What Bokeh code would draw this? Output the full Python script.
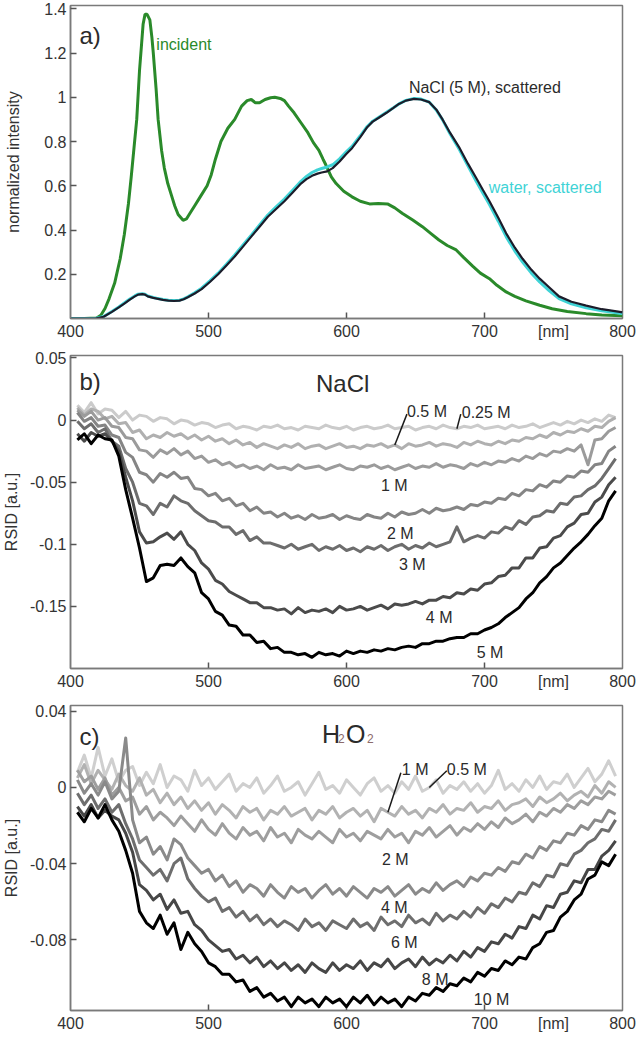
from bokeh.plotting import figure
from bokeh.models import Label, FixedTicker, Range1d
from bokeh.layouts import column
from bokeh.embed import file_html
from bokeh.resources import INLINE

FONT = "Liberation Sans"

# ---------------- panel a) normalized spectra (read off the picture)
incident_nm = [400, 410, 419, 422, 425, 428, 432, 436, 439, 442, 444, 446, 448, 450, 451.5, 452.6,
               454, 455.5, 457.5, 459, 460, 462, 463.5, 466, 468, 470.5, 473, 475.5, 478, 481.6,
               484, 486, 490, 495, 499, 502, 505, 509, 514, 519, 524, 528, 531, 534, 537, 541,
               545, 548, 552, 555, 558, 562, 567, 572, 576, 580, 583, 585, 589, 592.5, 598, 604,
               610, 616.7, 623, 629.7, 635, 640.6, 648, 655, 661, 667, 673, 679.5, 685, 691.6, 697,
               703.6, 709, 715.7, 722, 730, 740, 749, 760, 773.7, 785, 800]
incident_val = [0.0, 0.0, 0.002, 0.015, 0.045, 0.09, 0.16, 0.27, 0.38, 0.52, 0.64, 0.77, 0.90, 1.12,
                1.24, 1.33, 1.375, 1.375, 1.35, 1.27, 1.20, 1.04, 0.90, 0.76, 0.68, 0.61, 0.56, 0.51,
                0.47, 0.444, 0.45, 0.47, 0.51, 0.56, 0.60, 0.65, 0.72, 0.80, 0.86, 0.90, 0.96, 0.985,
                0.99, 0.975, 0.975, 0.99, 0.998, 1.0, 0.995, 0.985, 0.96, 0.93, 0.885, 0.84, 0.795,
                0.76, 0.72, 0.695, 0.64, 0.61, 0.575, 0.55, 0.53, 0.518, 0.52, 0.518, 0.50, 0.475,
                0.445, 0.415, 0.385, 0.355, 0.33, 0.31, 0.275, 0.236, 0.205, 0.18, 0.15, 0.12, 0.10,
                0.08, 0.06, 0.044, 0.032, 0.022, 0.016, 0.012]

scat_nm = [400, 418, 424, 430, 435, 439, 443, 446.6, 449, 452, 454, 456, 460, 463.5, 467, 471, 475,
           479, 482, 485, 490, 495, 501, 507, 513, 519, 525, 531, 537, 543, 549, 555, 561, 567, 571,
           575, 579, 582, 586, 590, 595, 600, 604, 610, 615, 619, 624, 629, 634, 638, 643, 649, 654,
           660, 665, 669.6, 675, 682, 688, 694, 699, 703.6, 710, 715.7, 722, 727.6, 734, 740, 747,
           754, 763, 773.7, 785, 798, 800]
nacl_scat = [0.0, 0.0, 0.008, 0.03, 0.05, 0.067, 0.085, 0.10, 0.108, 0.11, 0.108, 0.10, 0.093, 0.089,
             0.084, 0.081, 0.079, 0.081, 0.087, 0.096, 0.113, 0.133, 0.165, 0.20, 0.24, 0.28, 0.325,
             0.37, 0.415, 0.46, 0.495, 0.53, 0.57, 0.61, 0.63, 0.645, 0.655, 0.66, 0.665, 0.68, 0.71,
             0.745, 0.77, 0.82, 0.865, 0.89, 0.91, 0.93, 0.952, 0.97, 0.985, 0.993, 0.99, 0.978,
             0.945, 0.90, 0.84, 0.77, 0.70, 0.635, 0.58, 0.53, 0.455, 0.385, 0.32, 0.27, 0.22, 0.18,
             0.14, 0.10, 0.076, 0.058, 0.042, 0.03, 0.028]
water_scat = [0.0, 0.0, 0.009, 0.032, 0.052, 0.07, 0.088, 0.102, 0.11, 0.112, 0.11, 0.102, 0.095,
              0.09, 0.086, 0.083, 0.081, 0.083, 0.089, 0.098, 0.116, 0.137, 0.17, 0.205, 0.245,
              0.287, 0.332, 0.377, 0.423, 0.468, 0.505, 0.54, 0.58, 0.62, 0.642, 0.66, 0.672, 0.678,
              0.685, 0.695, 0.722, 0.755, 0.778, 0.826, 0.868, 0.892, 0.912, 0.932, 0.953, 0.97,
              0.986, 0.995, 0.992, 0.978, 0.943, 0.898, 0.835, 0.762, 0.69, 0.62, 0.565, 0.515,
              0.44, 0.37, 0.305, 0.255, 0.205, 0.165, 0.125, 0.09, 0.066, 0.048, 0.035, 0.024, 0.022]

# ---------------- panels b) and c): RSID spectra, one value every 5 nm from 405 to 795 nm
wl = list(range(405, 800, 5))

nacl_025 = [0.012, 0.006, 0.014, 0.005, 0.009, 0.008, 0.002, 0.007, 0.000, 0.004,
            0.003, -0.001, 0.002, 0.001, -0.003, 0.000, -0.001, -0.004, -0.002, -0.003,
            -0.006, -0.004, -0.003, -0.007, -0.005, -0.006, -0.008, -0.005, -0.006, -0.004,
            -0.007, -0.006, -0.008, -0.005, -0.006, -0.007, -0.004, -0.006, -0.007, -0.005,
            -0.008, -0.006, -0.005, -0.007, -0.006, -0.004, -0.007, -0.006, -0.005, -0.008,
            -0.006, -0.005, -0.007, -0.004, -0.006, -0.007, -0.005, -0.006, -0.004, -0.007,
            -0.006, -0.005, -0.007, -0.004, -0.006, -0.005, -0.003, -0.006, -0.004, -0.002,
            -0.004, -0.001, -0.003, 0.000, -0.002, 0.001, -0.001, 0.004, 0.002]
nacl_05 = [0.010, 0.004, 0.009, 0.007, 0.001, 0.003, -0.003, -0.002, -0.010, -0.008,
           -0.015, -0.012, -0.014, -0.010, -0.013, -0.011, -0.015, -0.012, -0.016, -0.013,
           -0.017, -0.015, -0.019, -0.016, -0.020, -0.018, -0.022, -0.019, -0.021, -0.023,
           -0.020, -0.022, -0.019, -0.023, -0.021, -0.020, -0.023, -0.021, -0.019, -0.022,
           -0.021, -0.023, -0.020, -0.021, -0.019, -0.022, -0.020, -0.023, -0.019, -0.021,
           -0.020, -0.018, -0.021, -0.019, -0.020, -0.022, -0.018, -0.020, -0.017, -0.019,
           -0.020, -0.017, -0.019, -0.016, -0.017, -0.014, -0.015, -0.012, -0.014, -0.010,
           -0.012, -0.009, -0.010, -0.007, -0.009, -0.005, -0.006, -0.001, 0.002]
nacl_1 = [0.008, 0.003, 0.007, 0.000, 0.002, -0.005, -0.006, -0.014, -0.015, -0.024,
          -0.025, -0.030, -0.024, -0.027, -0.023, -0.028, -0.025, -0.031, -0.029, -0.034,
          -0.032, -0.036, -0.034, -0.038, -0.036, -0.039, -0.037, -0.040, -0.036, -0.039,
          -0.038, -0.040, -0.036, -0.039, -0.038, -0.037, -0.040, -0.038, -0.036, -0.039,
          -0.040, -0.037, -0.038, -0.036, -0.039, -0.037, -0.040, -0.038, -0.036, -0.039,
          -0.037, -0.038, -0.035, -0.038, -0.036, -0.037, -0.039, -0.035, -0.037, -0.034,
          -0.036, -0.033, -0.034, -0.031, -0.033, -0.029, -0.031, -0.027, -0.029, -0.025,
          -0.026, -0.023, -0.025, -0.020, -0.036, -0.016, -0.015, -0.009, -0.006]
nacl_2 = [0.006, -0.001, 0.002, -0.005, -0.004, -0.012, -0.014, -0.026, -0.030, -0.042,
          -0.044, -0.050, -0.043, -0.046, -0.042, -0.047, -0.046, -0.055, -0.056, -0.061,
          -0.059, -0.065, -0.063, -0.069, -0.067, -0.073, -0.070, -0.075, -0.074, -0.078,
          -0.075, -0.079, -0.077, -0.080, -0.076, -0.079, -0.078, -0.076, -0.080, -0.077,
          -0.079, -0.080, -0.076, -0.078, -0.079, -0.075, -0.078, -0.074, -0.076, -0.075,
          -0.072, -0.075, -0.071, -0.073, -0.072, -0.070, -0.072, -0.068, -0.069, -0.066,
          -0.067, -0.063, -0.064, -0.059, -0.061, -0.056, -0.057, -0.052, -0.054, -0.049,
          -0.050, -0.045, -0.046, -0.041, -0.042, -0.036, -0.035, -0.025, -0.021]
nacl_3 = [-0.001, -0.007, -0.003, -0.010, -0.007, -0.017, -0.021, -0.039, -0.050, -0.067,
          -0.069, -0.076, -0.067, -0.070, -0.061, -0.065, -0.067, -0.073, -0.077, -0.081,
          -0.082, -0.086, -0.086, -0.092, -0.089, -0.097, -0.094, -0.099, -0.099, -0.101,
          -0.103, -0.100, -0.104, -0.102, -0.100, -0.105, -0.102, -0.104, -0.101, -0.105,
          -0.103, -0.106, -0.102, -0.104, -0.101, -0.105, -0.102, -0.100, -0.104, -0.101,
          -0.103, -0.099, -0.102, -0.100, -0.098, -0.086, -0.098, -0.095, -0.093, -0.095,
          -0.090, -0.091, -0.086, -0.088, -0.081, -0.084, -0.078, -0.077, -0.073, -0.074,
          -0.067, -0.068, -0.062, -0.061, -0.056, -0.053, -0.047, -0.039, -0.031]
nacl_4 = [-0.011, -0.017, -0.010, -0.013, -0.011, -0.017, -0.025, -0.046, -0.065, -0.090,
          -0.099, -0.098, -0.094, -0.091, -0.096, -0.090, -0.100, -0.105, -0.115, -0.120,
          -0.129, -0.132, -0.138, -0.141, -0.144, -0.147, -0.147, -0.151, -0.151, -0.153,
          -0.152, -0.156, -0.151, -0.155, -0.153, -0.154, -0.152, -0.155, -0.150, -0.153,
          -0.152, -0.150, -0.153, -0.151, -0.149, -0.152, -0.148, -0.149, -0.148, -0.146,
          -0.148, -0.145, -0.145, -0.142, -0.143, -0.139, -0.140, -0.136, -0.137, -0.132,
          -0.131, -0.126, -0.125, -0.119, -0.119, -0.111, -0.111, -0.103, -0.102, -0.095,
          -0.093, -0.086, -0.083, -0.076, -0.075, -0.066, -0.062, -0.052, -0.046]
nacl_5 = [-0.016, -0.011, -0.019, -0.012, -0.015, -0.016, -0.029, -0.056, -0.079, -0.103,
          -0.130, -0.127, -0.117, -0.116, -0.117, -0.111, -0.118, -0.123, -0.139, -0.144,
          -0.154, -0.157, -0.165, -0.166, -0.173, -0.173, -0.179, -0.178, -0.184, -0.183,
          -0.187, -0.187, -0.189, -0.188, -0.191, -0.187, -0.189, -0.188, -0.190, -0.186,
          -0.188, -0.186, -0.187, -0.185, -0.186, -0.184, -0.185, -0.183, -0.182, -0.183,
          -0.180, -0.180, -0.178, -0.178, -0.176, -0.175, -0.175, -0.172, -0.172, -0.169,
          -0.167, -0.164, -0.159, -0.155, -0.151, -0.144, -0.139, -0.131, -0.126, -0.119,
          -0.115, -0.109, -0.103, -0.098, -0.092, -0.085, -0.079, -0.065, -0.057]

h2o2_05 = [0.008, 0.017, 0.005, 0.021, 0.006, 0.015, 0.003, 0.009, 0.011, 0.001,
           0.008, 0.002, 0.012, 0.000, 0.006, 0.004, -0.002, 0.009, 0.001, 0.005,
           -0.001, 0.003, 0.007, -0.002, 0.002, 0.000, 0.005, -0.003, 0.001, 0.006,
           -0.002, 0.000, 0.003, -0.004, 0.002, 0.008, -0.001, 0.001, -0.003, 0.004,
           0.000, -0.004, 0.002, 0.005, -0.002, 0.001, -0.003, 0.003, -0.001, 0.006,
           -0.002, 0.000, 0.004, -0.003, 0.001, -0.001, 0.003, -0.002, 0.002, -0.003,
           0.001, 0.009, -0.001, 0.002, -0.002, 0.004, 0.000, 0.006, -0.001, 0.003,
           0.002, 0.007, 0.000, 0.005, 0.010, 0.003, 0.007, 0.014, 0.006]
h2o2_1 = [0.005, 0.012, 0.002, 0.009, 0.004, -0.001, 0.007, 0.001, -0.002, 0.005,
          -0.004, -0.001, -0.008, -0.003, -0.009, -0.005, -0.011, -0.007, -0.012, -0.008,
          -0.014, -0.009, -0.012, -0.016, -0.010, -0.013, -0.011, -0.017, -0.012, -0.014,
          -0.010, -0.015, -0.013, -0.011, -0.017, -0.012, -0.014, -0.010, -0.016, -0.013,
          -0.011, -0.015, -0.012, -0.018, -0.011, -0.013, -0.015, -0.010, -0.014, -0.012,
          -0.016, -0.011, -0.013, -0.009, -0.014, -0.011, -0.012, -0.008, -0.013, -0.010,
          -0.011, -0.007, -0.012, -0.009, -0.008, -0.006, -0.010, -0.005, -0.008, -0.006,
          -0.003, -0.007, -0.004, -0.002, -0.005, 0.001, -0.003, 0.003, 0.000]
h2o2_2 = [0.009, 0.003, 0.006, -0.001, 0.005, -0.004, 0.000, -0.007, -0.005, -0.014,
          -0.010, -0.017, -0.013, -0.016, -0.020, -0.015, -0.019, -0.023, -0.017, -0.022,
          -0.025, -0.019, -0.024, -0.027, -0.021, -0.025, -0.023, -0.028, -0.021, -0.026,
          -0.024, -0.029, -0.022, -0.025, -0.027, -0.023, -0.026, -0.029, -0.022, -0.026,
          -0.024, -0.028, -0.023, -0.025, -0.027, -0.022, -0.026, -0.024, -0.029, -0.023,
          -0.025, -0.021, -0.026, -0.023, -0.020, -0.025, -0.021, -0.023, -0.019, -0.022,
          -0.018, -0.021, -0.016, -0.019, -0.017, -0.014, -0.018, -0.013, -0.015, -0.011,
          -0.013, -0.009, -0.011, -0.007, -0.009, -0.005, -0.006, -0.002, -0.004]
h2o2_4 = [0.004, -0.003, 0.002, -0.004, 0.003, -0.006, -0.002, 0.026, -0.017, -0.029,
          -0.026, -0.035, -0.031, -0.038, -0.027, -0.030, -0.037, -0.041, -0.045, -0.043,
          -0.049, -0.046, -0.052, -0.049, -0.055, -0.051, -0.053, -0.057, -0.051, -0.055,
          -0.058, -0.052, -0.055, -0.053, -0.058, -0.054, -0.051, -0.056, -0.053, -0.057,
          -0.052, -0.055, -0.058, -0.053, -0.055, -0.052, -0.057, -0.054, -0.051, -0.056,
          -0.053, -0.055, -0.050, -0.054, -0.051, -0.049, -0.052, -0.047, -0.049, -0.045,
          -0.046, -0.042, -0.044, -0.039, -0.040, -0.035, -0.037, -0.031, -0.033, -0.028,
          -0.029, -0.024, -0.025, -0.020, -0.022, -0.017, -0.018, -0.012, -0.014]
h2o2_6 = [-0.003, -0.009, -0.004, -0.011, -0.006, -0.013, -0.009, -0.019, -0.027, -0.038,
          -0.042, -0.046, -0.043, -0.049, -0.040, -0.037, -0.048, -0.053, -0.057, -0.060,
          -0.058, -0.065, -0.063, -0.068, -0.065, -0.070, -0.067, -0.072, -0.069, -0.073,
          -0.070, -0.072, -0.075, -0.069, -0.073, -0.071, -0.075, -0.070, -0.072, -0.074,
          -0.069, -0.073, -0.071, -0.075, -0.068, -0.072, -0.070, -0.073, -0.067, -0.071,
          -0.069, -0.072, -0.066, -0.070, -0.067, -0.069, -0.065, -0.068, -0.063, -0.066,
          -0.061, -0.063, -0.058, -0.060, -0.055, -0.056, -0.050, -0.052, -0.046, -0.047,
          -0.040, -0.041, -0.035, -0.033, -0.029, -0.027, -0.022, -0.023, -0.017]
h2o2_8 = [-0.010, -0.015, -0.009, -0.016, -0.012, -0.015, -0.017, -0.024, -0.034, -0.051,
          -0.054, -0.059, -0.056, -0.064, -0.059, -0.066, -0.065, -0.072, -0.075, -0.080,
          -0.083, -0.086, -0.085, -0.090, -0.088, -0.092, -0.089, -0.094, -0.091, -0.095,
          -0.092, -0.096, -0.093, -0.097, -0.092, -0.095, -0.097, -0.092, -0.096, -0.093,
          -0.095, -0.091, -0.096, -0.092, -0.094, -0.090, -0.095, -0.092, -0.090, -0.094,
          -0.089, -0.093, -0.090, -0.092, -0.088, -0.091, -0.086, -0.089, -0.084, -0.086,
          -0.081, -0.082, -0.077, -0.079, -0.073, -0.074, -0.067, -0.069, -0.062, -0.063,
          -0.056, -0.055, -0.049, -0.050, -0.043, -0.043, -0.036, -0.033, -0.028]
h2o2_10 = [-0.013, -0.018, -0.011, -0.016, -0.009, -0.017, -0.023, -0.033, -0.045, -0.065,
           -0.071, -0.074, -0.067, -0.077, -0.071, -0.085, -0.076, -0.082, -0.086, -0.092,
           -0.094, -0.098, -0.098, -0.102, -0.101, -0.107, -0.105, -0.110, -0.108, -0.112,
           -0.110, -0.115, -0.110, -0.113, -0.111, -0.115, -0.110, -0.113, -0.111, -0.115,
           -0.110, -0.113, -0.109, -0.114, -0.110, -0.113, -0.111, -0.115, -0.110, -0.112,
           -0.108, -0.109, -0.105, -0.107, -0.103, -0.104, -0.100, -0.102, -0.097, -0.099,
           -0.095, -0.096, -0.091, -0.093, -0.089, -0.090, -0.084, -0.082, -0.076, -0.075,
           -0.068, -0.065, -0.059, -0.056, -0.048, -0.046, -0.039, -0.041, -0.035]

# tick labels ("[nm]" sits among the x tick labels)
x_ticks = [400, 500, 600, 700, 750, 800]
x_tick_labels = ["400", "500", "600", "700", "[nm]", "800"]
x_tick_marks = [500, 600, 700]
a_yticks = [0.2, 0.4, 0.6, 0.8, 1.0, 1.2, 1.4]
a_ylabels = ["0.2", "0.4", "0.6", "0.8", "1", "1.2", "1.4"]
b_yticks = [0.05, 0.0, -0.05, -0.1, -0.15]
b_ylabels = ["0.05", "0", "-0.05", "-0.1", "-0.15"]
c_yticks = [0.04, 0.0, -0.04, -0.08]
c_ylabels = ["0.04", "0", "-0.04", "-0.08"]

# series, colours and curve labels (label x in nm, label baseline in data units)
nacl_series = [nacl_025, nacl_05, nacl_1, nacl_2, nacl_3, nacl_4, nacl_5]
nacl_colors = ["#cbcbcb", "#b0b0b0", "#9b9b9b", "#858585", "#6d6d6d", "#4b4b4b", "#000000"]
nacl_text = ["0.25 M", "0.5 M", "1 M", "2 M", "3 M", "4 M", "5 M"]
nacl_text_x = [683.5, 643.8, 625.0, 629.3, 638.0, 657.5, 694.4]
nacl_text_y = [0.0064, 0.0072, -0.0526, -0.0911, -0.1164, -0.1589, -0.1868]
nacl_leader = [(682.8, 0.0048, 680, 0), (643.8, 0.0048, 635, 1)]

h2o2_series = [h2o2_05, h2o2_1, h2o2_2, h2o2_4, h2o2_6, h2o2_8, h2o2_10]
h2o2_colors = ["#cfcfcf", "#b2b2b2", "#9e9e9e", "#8a8a8a", "#6e6e6e", "#474747", "#000000"]
h2o2_text = ["0.5 M", "1 M", "2 M", "4 M", "6 M", "8 M", "10 M"]
h2o2_text_x = [672.7, 640.1, 625.7, 625.0, 632.2, 654.6, 692.2]
h2o2_text_y = [0.0093, 0.0093, -0.0377, -0.063, -0.0815, -0.1006, -0.111]
h2o2_leader = [(672.7, 0.0088, 660, 0), (639.4, 0.0077, 630, 1)]

AXIS_GREY = "#7a7a7a"
TEXT = "#2b2b2b"


def panel(height, top, bottom, y0, y1, yticks, ylabels, ytitle, title_standoff):
    p = figure(width=638, height=height, x_range=Range1d(400, 800), y_range=Range1d(y0, y1),
               output_backend="svg", toolbar_location=None,
               min_border_left=69, min_border_right=16, min_border_top=top, min_border_bottom=bottom)
    p.grid.visible = False
    p.outline_line_color = AXIS_GREY
    p.outline_line_width = 1.5
    p.xaxis.ticker = FixedTicker(ticks=x_ticks)
    p.xaxis.major_label_overrides = dict(zip(x_ticks, x_tick_labels))
    p.yaxis.ticker = FixedTicker(ticks=yticks)
    p.yaxis.major_label_overrides = dict(zip(yticks, ylabels))
    p.yaxis.axis_label = ytitle
    for ax in (p.xaxis[0], p.yaxis[0]):
        ax.axis_line_color = AXIS_GREY
        ax.axis_line_width = 1.5
        ax.major_tick_in = 6
        ax.major_tick_out = 0
        ax.major_tick_line_color = "#555555"
        ax.major_tick_line_width = 1.5
        ax.minor_tick_line_color = None
        ax.major_label_text_font = FONT
        ax.major_label_text_font_size = "16px"
        ax.major_label_text_color = "#333333"
        ax.axis_label_text_font = FONT
        ax.axis_label_text_font_size = "16px"
        ax.axis_label_text_font_style = "normal"
        ax.axis_label_text_color = "#333333"
    p.xaxis.major_tick_line_color = None
    p.yaxis.major_label_standoff = 4
    p.yaxis.axis_label_standoff = title_standoff
    p.xaxis.major_label_standoff = 4
    # inward x tick marks (no mark under "[nm]"); the half outside the frame is clipped
    p.scatter(x_tick_marks, [y0] * len(x_tick_marks), marker="dash", size=12, angle=1.5708,
              line_color="#555555", line_width=1.5)
    return p


def put(p, x, y, text, size="16px", color=TEXT, **kw):
    p.add_layout(Label(x=x, y=y, text=text, text_font=FONT, text_font_size=size,
                       text_color=color, text_baseline="alphabetic", **kw))


# ---------------- a)
pa = panel(342, 5, 23, 0, 1.415, a_yticks, a_ylabels, "normalized intensity", 19)
pa.line(incident_nm, incident_val, line_color="#2a8a2a", line_width=3)
pa.line(scat_nm, water_scat, line_color="#3fd3d6", line_width=3)
pa.line(scat_nm, nacl_scat, line_color="#1c1c2a", line_width=2.2)
put(pa, 406.5, 1.281, "a)", size="24px")
put(pa, 462.2, 1.24, "incident", color="#2a8a2a")
put(pa, 645.2, 1.044, "NaCl (5 M), scattered")
put(pa, 703.1, 0.592, "water, scattered", color="#3fd3d6")

# ---------------- b)
pb = panel(350, 13, 23, -0.2, 0.052, b_yticks, b_ylabels, "RSID [a.u.]", 7)
for ys, col in zip(nacl_series, nacl_colors):
    pb.line(wl, ys, line_color=col, line_width=3, line_join="round")
put(pb, 406.5, 0.0311, "b)", size="24px")
put(pb, 577.9, 0.0295, "NaCl", size="24px")
for t, x, y in zip(nacl_text, nacl_text_x, nacl_text_y):
    put(pb, x, y, t)
pb.segment(x0=[l[0] for l in nacl_leader], y0=[l[1] for l in nacl_leader],
           x1=[l[2] for l in nacl_leader],
           y1=[nacl_series[l[3]][wl.index(l[2])] for l in nacl_leader],
           line_color="#1a1a1a", line_width=1.5)

# ---------------- c)
pc = panel(351, 13, 33, -0.117, 0.043, c_yticks, c_ylabels, "RSID [a.u.]", 7)
for ys, col in zip(h2o2_series, h2o2_colors):
    pc.line(wl, ys, line_color=col, line_width=3, line_join="round")
put(pc, 406.5, 0.0268, "c)", size="24px")
sub_col = "#8c6a6a"
put(pc, 582.3, 0.028, "H", size="25px")
put(pc, 582.3, 0.028, "2", size="12px", color=sub_col, x_offset=16, y_offset=-4)
put(pc, 582.3, 0.028, "O", size="25px", x_offset=24)
put(pc, 582.3, 0.028, "2", size="12px", color=sub_col, x_offset=45, y_offset=-4)
for t, x, y in zip(h2o2_text, h2o2_text_x, h2o2_text_y):
    put(pc, x, y, t)
pc.segment(x0=[l[0] for l in h2o2_leader], y0=[l[1] for l in h2o2_leader],
           x1=[l[2] for l in h2o2_leader],
           y1=[h2o2_series[l[3]][wl.index(l[2])] for l in h2o2_leader],
           line_color="#1a1a1a", line_width=1.5)

layout = column(pa, pb, pc)
open("out.html", "w").write(file_html(layout, INLINE))
